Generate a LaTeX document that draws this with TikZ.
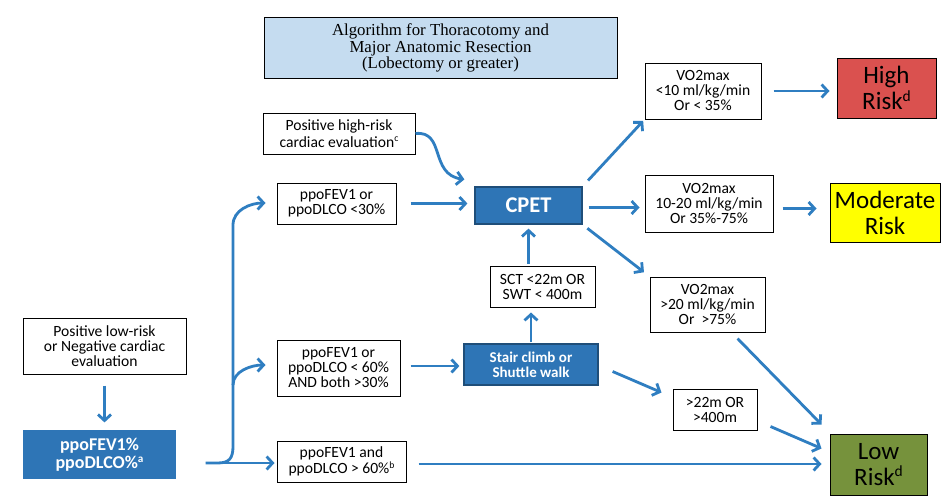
\documentclass[tikz,border=0pt]{standalone}
\usepackage{fontspec}
\usepackage{graphicx}
\setmainfont{Carlito}
\newfontfamily\titlefont{Liberation Serif}
\usetikzlibrary{arrows.meta,calc}
\newcommand{\mysup}[1]{\raisebox{0.34em}{\scalebox{0.62}{#1}}}
\definecolor{arrowblue}{HTML}{2F7EC1}
\definecolor{boxblue}{HTML}{2E75B6}
\definecolor{boxborder}{HTML}{1F4E79}
\definecolor{titlefill}{HTML}{C5DCF0}
\definecolor{riskred}{HTML}{DA514F}
\definecolor{riskyellow}{HTML}{FFFF00}
\definecolor{riskgreen}{HTML}{76923C}
\begin{document}
\begin{tikzpicture}[x=1pt,y=-1pt,
  wbox/.style={draw=black,line width=1pt,fill=white,align=center,inner sep=0pt,font=\fontsize{15.6}{15}\selectfont},
  bbox/.style={draw=boxborder,line width=1.2pt,fill=boxblue,text=white,align=center,inner sep=0pt,font=\bfseries\fontsize{15}{15}\selectfont},
  rbox/.style={draw=black,line width=1pt,align=center,inner sep=0pt,font=\fontsize{25}{26}\selectfont},
  conn/.style={draw=arrowblue,line width=2.8pt,-{Straight Barb[length=6pt,width=13pt]}}
]
\useasboundingbox[fill=white] (0,0) rectangle (949,503);

% title
\node[draw=black,line width=1pt,fill=titlefill,minimum width=353pt,minimum height=60pt,inner sep=0pt,align=center,font=\titlefont\fontsize{16.8}{16.5}\selectfont] (title) at (440.5,48) {Algorithm for Thoracotomy and\\Major Anatomic Resection\\(Lobectomy or greater)};

% left column
\node[wbox,minimum width=163pt,minimum height=56pt] (lowcard) at (104.5,346) {Positive low-risk\\or Negative cardiac\\evaluation};
\node[bbox,draw=none,minimum width=153pt,minimum height=49pt,font=\bfseries\fontsize{18}{18.5}\selectfont] (ppo) at (99.5,454.5) {ppoFEV1\%\\ppoDLCO\%\mysup{a}};

% middle column
\node[wbox,minimum width=152pt,minimum height=41pt,font=\fontsize{15.6}{16.5}\selectfont] (hicard) at (339,133.5) {Positive high-risk\\cardiac evaluation\mysup{c}};
\node[wbox,minimum width=119pt,minimum height=41pt] (lt30) at (336.5,203.5) {ppoFEV1 or\\ppoDLCO <30\%};
\node[wbox,minimum width=123pt,minimum height=56pt] (lt60) at (338.5,368) {ppoFEV1 or\\ppoDLCO < 60\%\\AND both >30\%};
\node[wbox,minimum width=129pt,minimum height=41pt,font=\fontsize{15.6}{16.5}\selectfont] (gt60) at (341.5,461.5) {ppoFEV1 and\\ppoDLCO > 60\%\mysup{b}};

% CPET column
\node[bbox,minimum width=107pt,minimum height=37pt,font=\bfseries\fontsize{22.5}{22}\selectfont] (cpet) at (528.5,205.5) {CPET};
\node[wbox,minimum width=105pt,minimum height=41pt] (sct) at (542.5,286.5) {SCT <22m OR\\SWT < 400m};
\node[bbox,minimum width=134pt,minimum height=41pt] (stair) at (531,364.5) {Stair climb or\\Shuttle walk};

% VO2max column
\node[wbox,minimum width=116pt,minimum height=56pt] (vo1) at (703,91) {VO2max\\<10 ml/kg/min\\Or < 35\%};
\node[wbox,minimum width=128pt,minimum height=57pt] (vo2) at (709,203.5) {VO2max\\10-20 ml/kg/min\\Or 35\%-75\%};
\node[wbox,minimum width=115pt,minimum height=55pt] (vo3) at (707.5,304.5) {VO2max\\>20 ml/kg/min\\Or \ >75\%};
\node[wbox,minimum width=84pt,minimum height=41pt] (gt22) at (715,409.5) {>22m OR\\>400m};

% risk boxes
\node[rbox,fill=riskred,minimum width=99pt,minimum height=60pt] (high) at (886.5,88) {High\\Risk\mysup{d}};
\node[rbox,fill=riskyellow,minimum width=110pt,minimum height=59pt] (mod) at (885,212.5) {Moderate\\Risk};
\node[rbox,fill=riskgreen,minimum width=97pt,minimum height=61pt] (low) at (878.5,464.5) {Low\\Risk\mysup{d}};

% connectors
\draw[conn,shorten <=11pt,shorten >=7pt] (lowcard.south) -- (lowcard.south |- ppo.north);

\coordinate (br) at ($(ppo.east)+(29,8.5)$);
\coordinate (trunkbot) at (233,446);
\coordinate (trunktop) at (233,225);
\coordinate (trunkmid) at (233,385);
\draw[conn,shorten >=2pt] (br) -- (br -| gt60.west);
\draw[conn] (br) -- ++(12,0) .. controls +(12,0) and +(0,12) .. (trunkbot) -- (trunktop)
  .. controls +(0,-15) and +(-15,0) .. ($(lt30.west)+(-11,-0.5)$);
\draw[conn] (trunkmid) .. controls +(0,-14) and +(-14,0) .. ($(lt60.west)+(-11,-3)$);

\draw[conn,shorten <=14pt,shorten >=7pt] (lt30.east) -- (lt30.east -| cpet.west);
\draw[conn] (hicard.east) .. controls +(30,-3) and +(-35,-5) .. ($(cpet.north west)+(-10,-7)$);
\coordinate (s60) at ($(lt60.east)+(0,-2)$);
\draw[conn,shorten <=10pt,shorten >=4pt] (s60) -- (s60 -| stair.west);

\draw[conn,shorten <=2pt,shorten >=4pt] (cpet.south |- sct.north) -- (cpet.south);
\draw[conn,shorten <=1pt,shorten >=5pt] (stair.north) -- (stair.north |- sct.south);

\draw[conn,shorten <=8pt,shorten >=2pt] (cpet.north east) -- (vo1.south west);
\coordinate (scp) at ($(cpet.east)+(0,2)$);
\draw[conn,shorten <=6pt,shorten >=5pt] (scp) -- (scp -| vo2.west);
\draw[conn,shorten <=6pt,shorten >=7pt] (cpet.south east) -- (vo3.north west);

\draw[conn,shorten <=12pt,shorten >=7pt] (vo1.east) -- (vo1.east -| high.west);
\coordinate (svo2) at ($(vo2.east)+(0,5)$);
\draw[conn,shorten <=9pt,shorten >=13pt] (svo2) -- (svo2 -| mod.west);
\draw[conn] ($(vo3.south)+(30,6)$) -- ($(low.north west)+(-8,-9)$);

\draw[conn] ($(stair.east)+(14,7)$) -- ($(gt22.west)+(-11,-17)$);
\draw[conn] ($(gt22.south east)+(13,-4)$) -- ($(low.west)+(-8,-16)$);
\coordinate (sg60) at ($(gt60.east)+(0,2.5)$);
\draw[conn,shorten <=12pt,shorten >=8pt] (sg60) -- (sg60 -| low.west);
\end{tikzpicture}
\end{document}
